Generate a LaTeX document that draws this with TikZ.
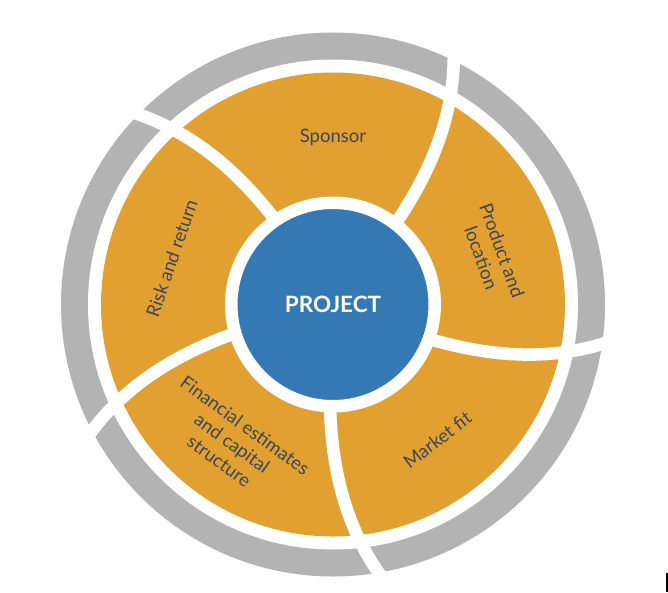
\documentclass[tikz,border=0pt]{standalone}
\usepackage{fontspec}
\setmainfont{Lato}
\usepackage{tikz}
\usepackage{xcolor}

\definecolor{segorange}{HTML}{E1A02F}
\definecolor{hubblue}{HTML}{3579B4}
\definecolor{ringgray}{HTML}{B3B3B3}
\definecolor{labeltext}{HTML}{3D4656}

\begin{document}
\begin{tikzpicture}[
    x=1pt, y=1pt,
    hub/.style={circle, fill=hubblue, draw=white, line width=12.5pt, minimum size=203.5pt, inner sep=0pt, text=white, font=\bfseries\fontsize{22.5}{26}\selectfont},
    seglabel/.style={align=center, text=labeltext, inner sep=0pt, font=\fontsize{18.5}{22}\selectfont},
    divider/.style={draw=white, line width=12.5pt}
]
\useasboundingbox (-333,-287.5) rectangle (335,304.5);

% rings
\fill[ringgray] (0,0) circle[radius=272pt];
\fill[white] (0,0) circle[radius=245pt];
\fill[segorange] (0,0) circle[radius=232pt];

% curved gaps between segments
\foreach \a in {52.5,124.5,196.5,268.5,340.5}
  \draw[divider] plot[domain=104:288, samples=40]
    ({\a+4.8*(\x-108)/130+3.2*((\x-108)/130)*((\x-108)/130)}:\x);

% hub
\node[hub] (project) at (0,0) {PROJECT};

% segment labels
\node[seglabel] (sponsor) at (90:167.5) {Sponsor};
\node[seglabel, rotate=-70] (product) at (17.6:166.5) {Product and\\location};
\node[seglabel, rotate=71] (risk) at (164:167.8) {Risk and return};
\node[seglabel, rotate=-36] (financial) at (234:171.5) {Financial estimates\\and capital\\structure};
\node[seglabel, rotate=37.6] (market) at (307.6:171) {Market fit};

% edge mark
\fill[black] (333,-268.5) rectangle (335,-287.5);
\end{tikzpicture}
\end{document}
